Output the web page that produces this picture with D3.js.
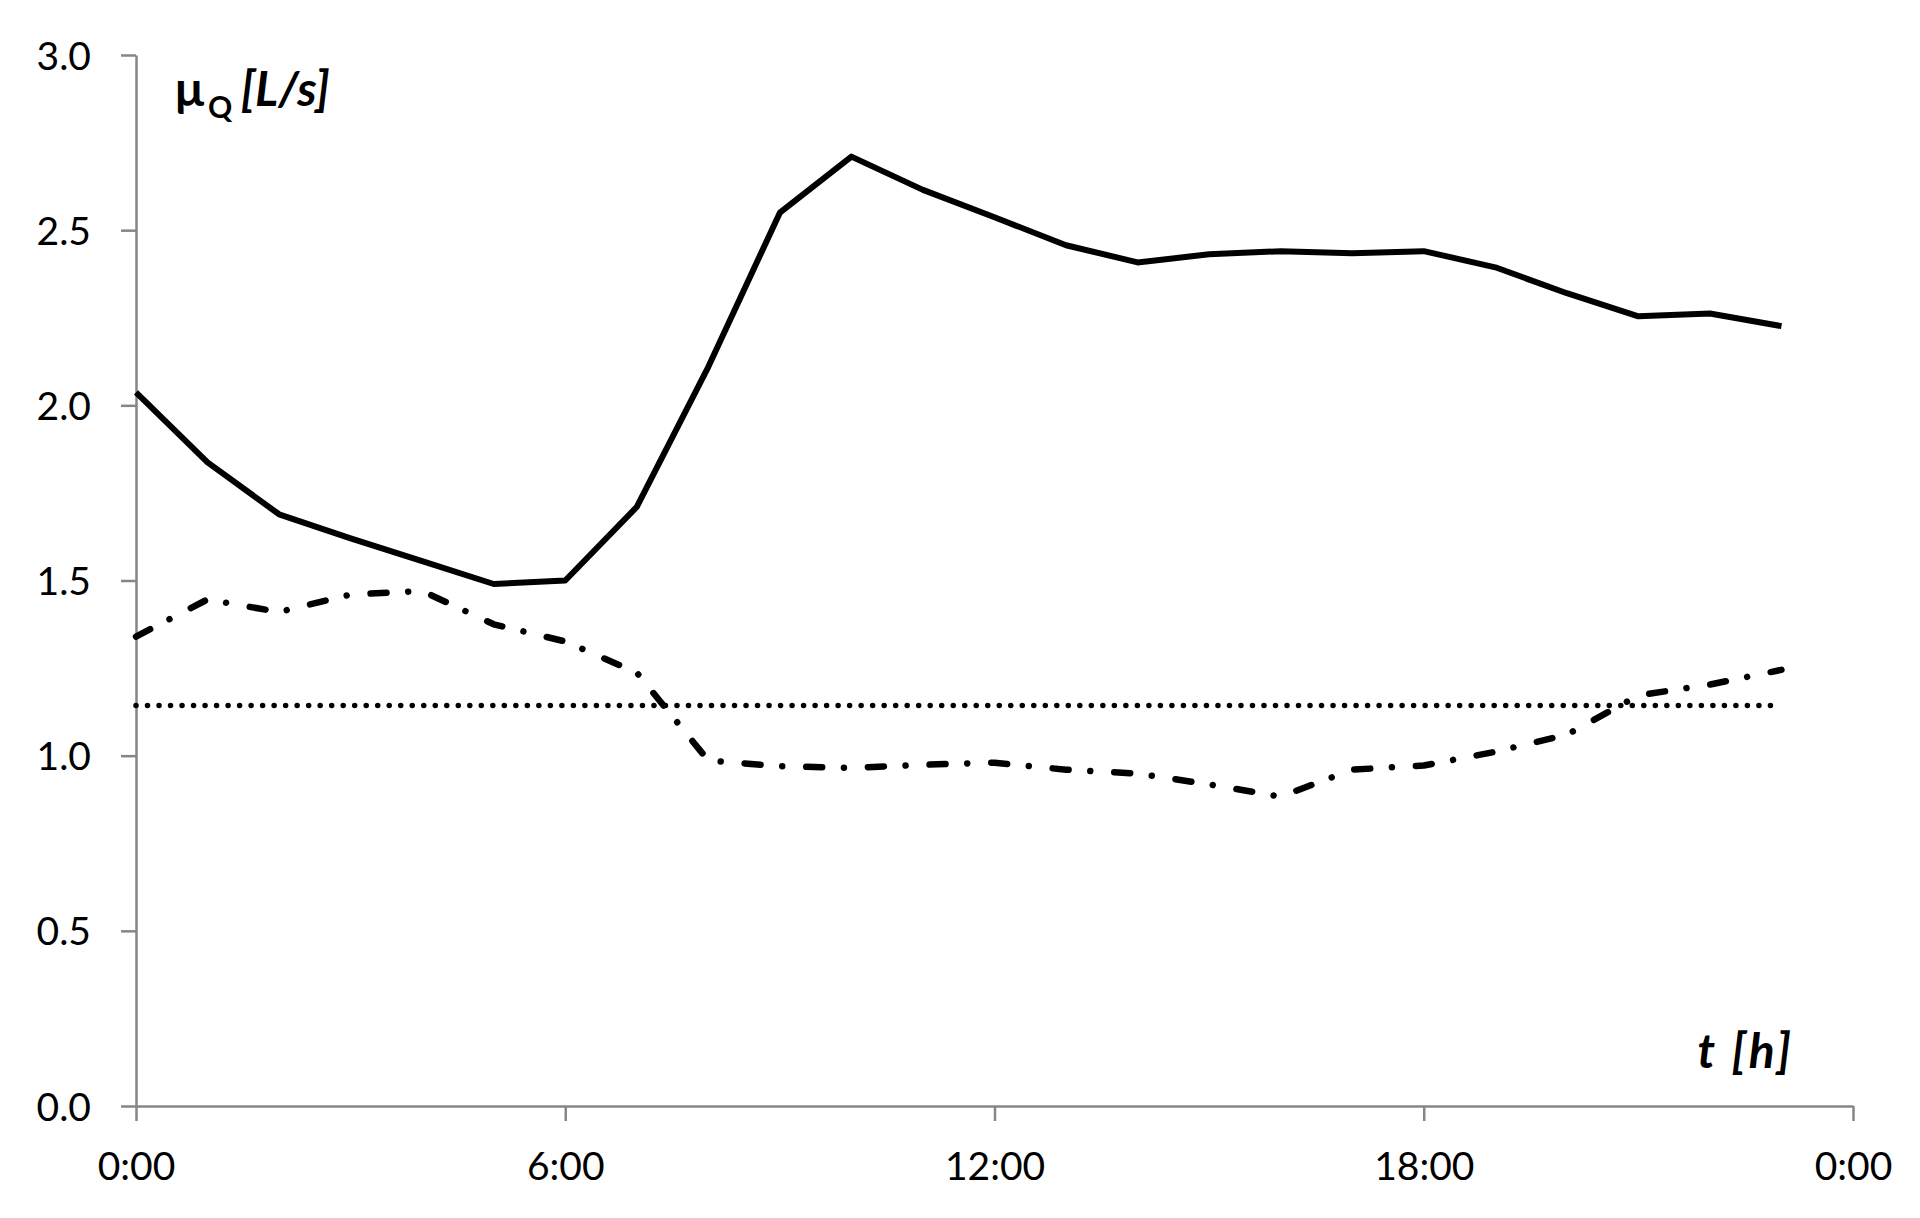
<!DOCTYPE html>
<html>
<head>
<meta charset="utf-8">
<script src="https://cdn.jsdelivr.net/npm/d3@7"></script>
<style>
  body { margin: 0; background: #fff; }
  svg { display: block; font-family: Lato, "Open Sans", sans-serif; }
</style>
</head>
<body>
<svg id="chart" width="1920" height="1218"></svg>
<script>
var w = 1920
var h = 1218

// hourly values, 0:00 .. 23:00
var hours = [0,1,2,3,4,5,6,7,8,9,10,11,12,13,14,15,16,17,18,19,20,21,22,23]
var meanQ = [2.037,1.837,1.689,1.62,1.555,1.49,1.50,1.71,2.11,2.55,2.71,2.615,
             2.537,2.457,2.408,2.431,2.44,2.434,2.44,2.394,2.32,2.254,2.262,2.226]
var otherQ = [1.34,1.446,1.41,1.46,1.47,1.375,1.326,1.237,0.986,0.97,0.965,0.974,
              0.98,0.96,0.949,0.918,0.883,0.96,0.972,1.011,1.06,1.172,1.203,1.245]
var dailyMean = [1.143,1.143,1.143,1.143,1.143,1.143,1.143,1.143,1.143,1.143,1.143,1.143,
                 1.143,1.143,1.143,1.143,1.143,1.143,1.143,1.143,1.143,1.143,1.143,1.143]

var xTicks = [0, 6, 12, 18, 24]
var yTicks = [0, 0.5, 1.0, 1.5, 2.0, 2.5, 3.0]

var plotLeft = 136, plotRight = 1853, plotTop = 55, plotBottom = 1106
var axisColor = "#868686"

var svg = d3.select("#chart")

var x = d3.scaleLinear().domain([0, 24]).range([plotLeft, plotRight])
var y = d3.scaleLinear().domain([0, 3]).range([plotBottom, plotTop])

// y axis
var yAxis = svg.append("g")
    .attr("transform", "translate(" + plotLeft + ",0)")
    .call(d3.axisLeft(y).tickValues(yTicks).tickFormat(d3.format(".1f"))
        .tickSize(15).tickSizeOuter(0).tickPadding(30))
yAxis.selectAll("path, line").attr("stroke", axisColor).attr("stroke-width", 2.5)
yAxis.selectAll("text")
    .attr("fill", "#000")
    .attr("font-size", 39)
    .attr("font-family", "Lato, sans-serif")
    .attr("dy", "0.36em")

// x axis
var xAxis = svg.append("g")
    .attr("transform", "translate(0," + plotBottom + ")")
    .call(d3.axisBottom(x).tickValues(xTicks)
        .tickFormat(function(d){ return (d % 24) + ":00" })
        .tickSize(15).tickSizeOuter(0))
xAxis.selectAll("path, line").attr("stroke", axisColor).attr("stroke-width", 2.5)
xAxis.selectAll("text")
    .attr("fill", "#000")
    .attr("font-size", 39)
    .attr("font-family", "Lato, sans-serif")
    .attr("y", 74)
    .attr("dy", null)

// lines
function drawLine(values, width, dash) {
    var line = d3.line()
        .x(function(d, i){ return x(hours[i]) })
        .y(function(d){ return y(d) })
    svg.append("path")
        .datum(values)
        .attr("d", line)
        .attr("fill", "none")
        .attr("stroke", "#000")
        .attr("stroke-width", width)
        .attr("stroke-linejoin", "round")
        .attr("stroke-linecap", dash ? "round" : "butt")
        .attr("stroke-dasharray", dash)
}

drawLine(dailyMean, 5.5, "0.01 11.5")
drawLine(otherQ, 6.5, "16 21.7 0.01 24")
drawLine(meanQ, 6, null)

// axis titles
var yt = svg.append("text")
    .attr("x", 175).attr("y", 106)
    .attr("font-size", 48)
    .attr("font-weight", "bold")
    .attr("fill", "#000")
yt.append("tspan").text("μ")
yt.append("tspan").attr("font-size", 30).attr("dy", 12).attr("dx", 4).text("Q")
yt.append("tspan").attr("font-style", "italic").attr("dy", -12).attr("dx", -2).text(" [L/s]")

svg.append("text")
    .attr("x", 1794).attr("y", 1068)
    .attr("text-anchor", "end")
    .attr("font-size", 48)
    .attr("font-weight", "bold")
    .attr("font-style", "italic")
    .attr("letter-spacing", 3)
    .attr("fill", "#000")
    .text("t [h]")
</script>
</body>
</html>
